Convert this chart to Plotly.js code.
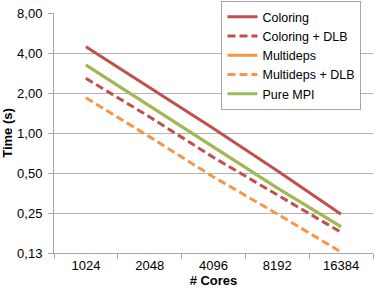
<!DOCTYPE html>
<html><head><meta charset="utf-8">
<script src="https://cdn.plot.ly/plotly-3.0.1.min.js"></script>
<style>html,body{margin:0;padding:0;background:#fff;}#chart{width:374px;height:289px;}</style>
</head><body><div id="chart"></div>
<script>
const cores = ['1024','2048','4096','8192','16384'];
const coloring = [4.45, 2.19, 1.08, 0.52, 0.245];
const coloringDLB = [2.58, 1.32, 0.655, 0.343, 0.179];
const multideps = [3.25, 1.60, 0.78, 0.386, 0.197];
const multidepsDLB = [1.84, 0.935, 0.467, 0.246, 0.127];
const pureMPI = [3.25, 1.60, 0.78, 0.386, 0.197];
const yTickVals = [0.125, 0.25, 0.5, 1, 2, 4, 8];
const yTickText = ['0,13','0,25','0,50','1,00','2,00','4,00','8,00'];

const red = '#C0504D', orange = '#F79646', green = '#9BBB59';
function tr(name, y, color, dash){
  return {x: cores, y: y, name: name, type: 'scatter', mode: 'lines',
    line: {color: color, width: 3, dash: dash}};
}
const data = [
  tr('Coloring', coloring, red, 'solid'),
  tr('Coloring + DLB', coloringDLB, red, '8px,4px'),
  tr('Multideps', multideps, orange, 'solid'),
  tr('Multideps + DLB', multidepsDLB, orange, '8px,4px'),
  tr('Pure MPI', pureMPI, green, 'solid')
];
const layout = {
  width: 374, height: 289,
  margin: {l: 54, r: 1, t: 7, b: 36},
  paper_bgcolor: '#fff', plot_bgcolor: '#fff',
  font: {family: 'Liberation Sans, Arial, sans-serif', size: 13, color: '#000'},
  showlegend: true,
  legend: {x: 0.525, y: 1.05, xanchor: 'left', yanchor: 'top',
    bgcolor: '#fff', bordercolor: '#a6a6a6', borderwidth: 1,
    font: {size: 12.5}, itemwidth: 30, tracegroupgap: 0},
  xaxis: {type: 'category', showline: true, linecolor: '#a6a6a6', linewidth: 1,
    ticks: 'outside', tickson: 'boundaries', ticklen: 5, tickcolor: '#a6a6a6',
    showgrid: false, zeroline: false, range: [-0.5, 4.5],
    title: {text: '<b># Cores</b>', font: {size: 13}, standoff: 2},
    tickfont: {size: 13}},
  yaxis: {type: 'log', range: [Math.log10(0.125), Math.log10(8)],
    tickvals: yTickVals, ticktext: yTickText,
    showline: true, linecolor: '#a6a6a6', linewidth: 1,
    ticks: 'outside', ticklen: 5, tickcolor: '#a6a6a6', ticklabelstandoff: 3,
    showgrid: true, gridcolor: '#b3b3b3', gridwidth: 1, zeroline: false,
    title: {text: '<b>Time (s)</b>', font: {size: 13}, standoff: 2},
    tickfont: {size: 13}}
};
Plotly.newPlot('chart', data, layout, {displayModeBar: false, staticPlot: true});
</script></body></html>
